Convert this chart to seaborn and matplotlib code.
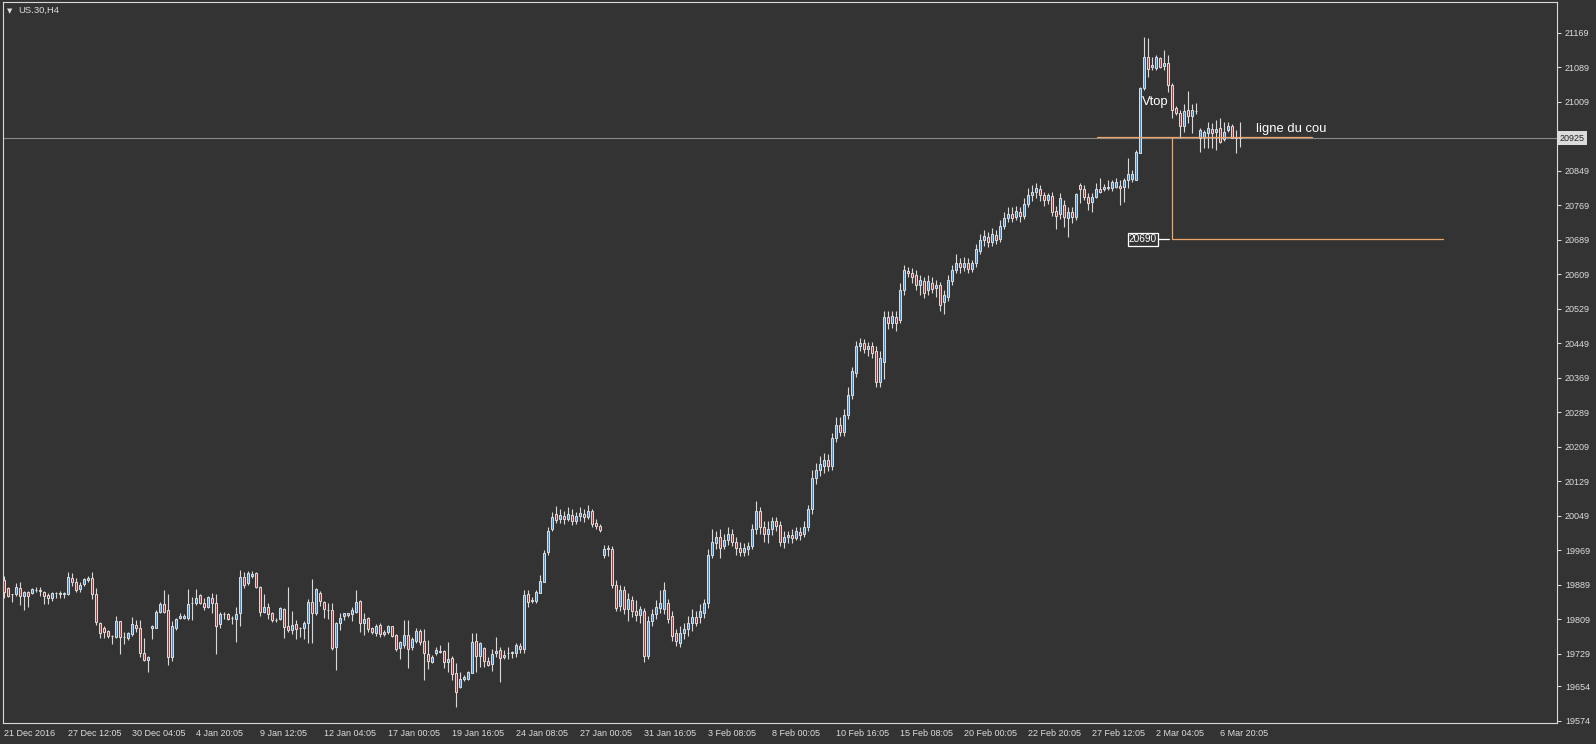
import numpy as np
import pandas as pd
import matplotlib
matplotlib.use("Agg")
import matplotlib.pyplot as plt
import seaborn as sns

# ---------------- data (US.30, H4 candles) ----------------
opens = [
    19900, 19882, 19868, 19868, 19882, 19863, 19872, 19870, 19877, 19877,
    19872, 19865, 19858, 19870, 19868, 19868, 19868, 19905, 19896, 19879,
    19891, 19900, 19905, 19868, 19801, 19789, 19782, 19770, 19768, 19805,
    19768, 19766, 19775, 19796, 19789, 19731, 19715, 19789, 19789, 19826,
    19845, 19831, 19722, 19789, 19812, 19812, 19812, 19847, 19847, 19865,
    19847, 19838, 19858, 19847, 19798, 19821, 19821, 19812, 19810, 19824,
    19907, 19893, 19910, 19916, 19884, 19826, 19838, 19824, 19808, 19810,
    19833, 19794, 19784, 19798, 19789, 19789, 19801, 19849, 19824, 19870,
    19849, 19831, 19831, 19745, 19801, 19817, 19824, 19821, 19826, 19852,
    19801, 19812, 19789, 19777, 19796, 19775, 19780, 19794, 19773, 19743,
    19750, 19773, 19745, 19759, 19782, 19759, 19729, 19710, 19731, 19736,
    19736, 19710, 19719, 19685, 19652, 19671, 19671, 19685, 19759, 19724,
    19743, 19713, 19706, 19731, 19738, 19722, 19731, 19731, 19731, 19747,
    19740, 19868, 19852, 19852, 19870, 19896, 19964, 20018, 20053, 20041,
    20048, 20041, 20051, 20037, 20048, 20053, 20046, 20060, 20032, 20025,
    19959, 19971, 19973, 19888, 19841, 19876, 19834, 19853, 19829, 19820,
    19829, 19723, 19805, 19822, 19836, 19834, 19848, 19817, 19777, 19753,
    19777, 19787, 19801, 19815, 19815, 19824, 19846, 19959, 19985, 20001,
    19980, 19994, 20006, 19989, 19975, 19966, 19971, 19978, 20018, 20060,
    20023, 20006, 20018, 20037, 20027, 19989, 19999, 20004, 19997, 20011,
    20006, 20023, 20065, 20136, 20155, 20164, 20178, 20164, 20230, 20259,
    20244, 20282, 20329, 20381, 20443, 20450, 20436, 20443, 20431, 20360,
    20405, 20509, 20495, 20511, 20502, 20572, 20617, 20613, 20608, 20584,
    20594, 20572, 20589, 20577, 20584, 20544, 20556, 20594, 20620, 20636,
    20627, 20636, 20622, 20636, 20664, 20688, 20695, 20683, 20700, 20690,
    20721, 20740, 20749, 20742, 20754, 20745, 20773, 20792, 20801, 20806,
    20792, 20782, 20790, 20756, 20749, 20770, 20740, 20753, 20742, 20816,
    20807, 20788, 20777, 20789, 20807, 20806, 20811, 20808, 20812, 20814,
    20811, 20828, 20829, 20828, 20890, 21040, 21112, 21090, 21087, 21111,
    21092, 21098, 21048, 20994, 20982, 20953, 20990, 20976, 20988, 20925,
    20927, 20936, 20945, 20940, 20948, 20922, 20944, 20953, 20927, 20927,
]
highs = [
    19910, 19884, 19868, 19893, 19896, 19875, 19875, 19882, 19884, 19884,
    19875, 19870, 19872, 19872, 19875, 19872, 19919, 19916, 19905, 19896,
    19905, 19910, 19919, 19882, 19803, 19794, 19784, 19773, 19817, 19805,
    19780, 19780, 19815, 19807, 19807, 19766, 19724, 19796, 19831, 19849,
    19877, 19868, 19805, 19812, 19824, 19821, 19879, 19861, 19879, 19868,
    19858, 19863, 19870, 19868, 19826, 19826, 19824, 19817, 19838, 19923,
    19919, 19921, 19921, 19919, 19886, 19868, 19847, 19826, 19812, 19838,
    19835, 19884, 19828, 19808, 19791, 19805, 19856, 19903, 19882, 19875,
    19852, 19847, 19847, 19803, 19824, 19824, 19824, 19838, 19877, 19854,
    19824, 19815, 19791, 19798, 19801, 19784, 19796, 19794, 19775, 19759,
    19808, 19808, 19768, 19789, 19787, 19787, 19761, 19726, 19745, 19750,
    19738, 19757, 19724, 19708, 19687, 19680, 19689, 19777, 19777, 19757,
    19745, 19722, 19740, 19768, 19745, 19738, 19745, 19736, 19754, 19754,
    19877, 19877, 19861, 19877, 19912, 19970, 20023, 20058, 20072, 20065,
    20060, 20070, 20065, 20058, 20070, 20065, 20074, 20065, 20041, 20030,
    19982, 19982, 19980, 19900, 19888, 19886, 19871, 19864, 19853, 19841,
    19836, 19817, 19834, 19853, 19876, 19895, 19857, 19829, 19787, 19794,
    19801, 19817, 19834, 19829, 19845, 19857, 19971, 20018, 20013, 20018,
    20008, 20023, 20018, 19999, 19989, 19985, 19989, 20030, 20084, 20070,
    20037, 20037, 20046, 20046, 20037, 20013, 20013, 20018, 20023, 20023,
    20037, 20074, 20155, 20171, 20188, 20195, 20192, 20240, 20277, 20277,
    20296, 20348, 20395, 20454, 20461, 20459, 20452, 20452, 20443, 20431,
    20525, 20525, 20525, 20523, 20589, 20631, 20627, 20624, 20620, 20608,
    20603, 20608, 20603, 20596, 20591, 20572, 20608, 20631, 20655, 20646,
    20648, 20646, 20643, 20679, 20702, 20712, 20707, 20716, 20712, 20735,
    20754, 20764, 20764, 20768, 20764, 20785, 20808, 20815, 20820, 20815,
    20801, 20797, 20801, 20768, 20797, 20781, 20765, 20765, 20797, 20821,
    20816, 20798, 20798, 20821, 20832, 20818, 20828, 20828, 20832, 20828,
    20832, 20878, 20851, 20897, 21044, 21160, 21158, 21113, 21117, 21113,
    21129, 21117, 21052, 20999, 20990, 21005, 21035, 21005, 21007, 20948,
    20944, 20961, 20959, 20967, 20971, 20961, 20963, 20957, 20944, 20963,
]
lows = [
    19858, 19861, 19849, 19863, 19842, 19831, 19838, 19868, 19872, 19863,
    19845, 19845, 19852, 19858, 19858, 19858, 19866, 19886, 19872, 19872,
    19886, 19896, 19856, 19796, 19766, 19766, 19766, 19752, 19766, 19729,
    19752, 19761, 19770, 19780, 19722, 19713, 19687, 19763, 19789, 19824,
    19824, 19703, 19713, 19784, 19810, 19810, 19808, 19808, 19842, 19845,
    19831, 19835, 19824, 19729, 19789, 19810, 19808, 19798, 19757, 19794,
    19882, 19889, 19905, 19882, 19817, 19824, 19810, 19803, 19803, 19808,
    19766, 19780, 19775, 19763, 19768, 19763, 19754, 19754, 19819, 19840,
    19812, 19810, 19738, 19692, 19784, 19808, 19815, 19805, 19824, 19780,
    19773, 19780, 19775, 19770, 19768, 19770, 19775, 19768, 19736, 19717,
    19743, 19696, 19738, 19754, 19750, 19668, 19694, 19708, 19726, 19731,
    19696, 19687, 19668, 19606, 19650, 19666, 19668, 19684, 19687, 19699,
    19699, 19701, 19689, 19722, 19664, 19717, 19717, 19719, 19722, 19731,
    19731, 19838, 19847, 19847, 19870, 19896, 19959, 20013, 20032, 20032,
    20030, 20037, 20027, 20030, 20037, 20034, 20041, 20023, 20018, 20011,
    19952, 19956, 19881, 19829, 19829, 19822, 19805, 19815, 19805, 19801,
    19711, 19716, 19794, 19810, 19824, 19822, 19801, 19758, 19746, 19744,
    19763, 19770, 19782, 19794, 19801, 19812, 19836, 19952, 19971, 19952,
    19971, 19982, 19978, 19959, 19956, 19956, 19959, 19971, 20006, 20006,
    19989, 19987, 20004, 20013, 19978, 19975, 19985, 19987, 19992, 19994,
    19999, 20013, 20053, 20122, 20141, 20148, 20152, 20155, 20221, 20235,
    20235, 20273, 20320, 20372, 20431, 20426, 20419, 20414, 20348, 20348,
    20367, 20483, 20485, 20478, 20495, 20561, 20603, 20589, 20572, 20561,
    20553, 20561, 20565, 20556, 20525, 20518, 20546, 20584, 20613, 20613,
    20617, 20613, 20615, 20627, 20655, 20674, 20672, 20674, 20679, 20683,
    20714, 20731, 20731, 20735, 20731, 20738, 20764, 20780, 20785, 20778,
    20768, 20773, 20745, 20714, 20738, 20719, 20695, 20728, 20735, 20774,
    20781, 20758, 20754, 20785, 20798, 20803, 20804, 20803, 20808, 20770,
    20777, 20808, 20824, 20828, 20890, 21036, 21067, 21083, 21083, 21087,
    21083, 21032, 20971, 20978, 20924, 20940, 20959, 20936, 20981, 20893,
    20901, 20901, 20901, 20897, 20914, 20919, 20940, 20924, 20891, 20905,
]
closes = [
    19872, 19863, 19867, 19884, 19863, 19872, 19863, 19879, 19878, 19875,
    19863, 19858, 19870, 19871, 19870, 19869, 19907, 19896, 19877, 19889,
    19903, 19905, 19868, 19803, 19777, 19780, 19770, 19771, 19805, 19768,
    19769, 19777, 19798, 19789, 19731, 19715, 19722, 19794, 19826, 19845,
    19826, 19722, 19794, 19810, 19817, 19817, 19845, 19846, 19858, 19847,
    19838, 19861, 19847, 19794, 19821, 19822, 19810, 19813, 19821, 19907,
    19889, 19916, 19914, 19884, 19826, 19838, 19821, 19808, 19807, 19835,
    19791, 19784, 19796, 19787, 19788, 19801, 19849, 19824, 19879, 19852,
    19833, 19830, 19743, 19801, 19812, 19824, 19819, 19831, 19849, 19801,
    19810, 19787, 19780, 19794, 19775, 19780, 19794, 19770, 19740, 19757,
    19773, 19740, 19763, 19782, 19757, 19731, 19713, 19722, 19738, 19733,
    19710, 19717, 19682, 19641, 19671, 19675, 19687, 19757, 19724, 19754,
    19713, 19703, 19729, 19736, 19719, 19726, 19730, 19733, 19750, 19740,
    19865, 19849, 19854, 19872, 19898, 19963, 20013, 20046, 20039, 20051,
    20041, 20053, 20037, 20048, 20056, 20046, 20060, 20030, 20025, 20015,
    19971, 19975, 19888, 19836, 19876, 19834, 19857, 19829, 19820, 19834,
    19723, 19805, 19822, 19838, 19848, 19876, 19810, 19770, 19758, 19777,
    19787, 19801, 19815, 19801, 19829, 19848, 19959, 19989, 19999, 19975,
    19994, 20008, 19989, 19975, 19966, 19975, 19980, 20018, 20060, 20023,
    20006, 20018, 20037, 20025, 19989, 19999, 20004, 19997, 20013, 20004,
    20023, 20065, 20136, 20155, 20169, 20178, 20164, 20230, 20259, 20244,
    20282, 20329, 20384, 20443, 20450, 20436, 20443, 20426, 20360, 20414,
    20509, 20495, 20513, 20495, 20572, 20620, 20613, 20603, 20584, 20596,
    20565, 20594, 20575, 20584, 20537, 20561, 20596, 20620, 20636, 20627,
    20636, 20622, 20636, 20667, 20688, 20697, 20683, 20702, 20688, 20721,
    20740, 20749, 20740, 20756, 20745, 20773, 20792, 20801, 20808, 20792,
    20782, 20792, 20754, 20745, 20785, 20742, 20753, 20742, 20795, 20807,
    20788, 20774, 20789, 20806, 20800, 20812, 20808, 20824, 20824, 20808,
    20828, 20842, 20842, 20893, 21040, 21113, 21084, 21094, 21113, 21090,
    21100, 21048, 20990, 20982, 20953, 20988, 20976, 20990, 20987, 20944,
    20940, 20948, 20937, 20945, 20916, 20940, 20953, 20924, 20925, 20925,
]

date_labels = [
    "21 Dec 2016", "27 Dec 12:05", "30 Dec 04:05", "4 Jan 20:05", "9 Jan 12:05",
    "12 Jan 04:05", "17 Jan 00:05", "19 Jan 16:05", "24 Jan 08:05", "27 Jan 00:05",
    "31 Jan 16:05", "3 Feb 08:05", "8 Feb 00:05", "10 Feb 16:05", "15 Feb 08:05",
    "20 Feb 00:05", "22 Feb 20:05", "27 Feb 12:05", "2 Mar 04:05", "6 Mar 20:05",
]
label_step = 16  # one date label every 16 bars

price_ticks = [21169, 21089, 21009, 20849, 20769, 20689, 20609, 20529, 20449,
               20369, 20289, 20209, 20129, 20049, 19969, 19889, 19809, 19729,
               19654, 19574]

bid_price = 20925
neck_price = 20927
target_price = 20690
neck_bars = (273.2, 327.1)
target_bars = (292.0, 359.7)
vtop_pos = (284.6, 21009)
neck_text_pos = (313.2, 20945)

# ---------------- style ----------------
BG = "#333333"
FG = "#dcdcdc"
BULL = "#2e8fe6"
BEAR = "#b53030"
EDGE = "#d9d9d9"
ORANGE = "#efa46a"

sns.set_style("dark", {"axes.facecolor": BG, "figure.facecolor": BG,
                       "axes.edgecolor": EDGE, "grid.color": BG})
plt.rcParams["font.family"] = ["Liberation Sans", "DejaVu Sans"]

df = pd.DataFrame({"open": opens, "high": highs, "low": lows, "close": closes})
df["bar"] = np.arange(len(df))
df["bull"] = df["close"] >= df["open"]

W, H = 1596, 744
fig = plt.figure(figsize=(W / 100, H / 100), dpi=100)
ax = fig.add_axes([2.5 / W, (H - 722.7) / H, (1556.5 - 2.5) / W, (722.7 - 2) / H])
ax.set_facecolor(BG)

# bid line
sns.lineplot(x=[-1, 400], y=[bid_price, bid_price], color="#8a8a8a",
             linewidth=0.8, ax=ax, zorder=1)

# wicks and bodies
ax.vlines(df["bar"], df["low"], df["high"], color=EDGE, linewidth=0.8, zorder=2)
ax.bar(df["bar"], df["close"] - df["open"], bottom=df["open"], width=0.5,
       color=np.where(df["bull"], BULL, BEAR), edgecolor=EDGE,
       linewidth=0.75, zorder=3)

# pattern annotations
sns.lineplot(x=list(neck_bars), y=[neck_price, neck_price], color=ORANGE,
             linewidth=0.9, ax=ax, zorder=4)
ax.plot([target_bars[0], target_bars[0]], [neck_price, target_price],
        color=ORANGE, linewidth=0.9, zorder=4)
ax.plot(list(target_bars), [target_price, target_price], color=ORANGE,
        linewidth=0.9, zorder=4)
ax.plot([288.6, 291.3], [target_price, target_price], color="white",
        linewidth=0.9, zorder=5)
ax.text(288.3, target_price, "20690", color="white", fontsize=7.3,
        ha="right", va="center", zorder=6,
        bbox=dict(boxstyle="square,pad=0.12", facecolor=BG, edgecolor="white",
                  linewidth=0.9))
ax.text(vtop_pos[0], vtop_pos[1], "Vtop", color="white", fontsize=9.4,
        ha="left", va="center", zorder=6)
ax.text(neck_text_pos[0], neck_text_pos[1], "ligne du cou", color="white",
        fontsize=9.4, ha="left", va="center", zorder=6)

# axes
ax.set_xlim(-0.3, 388.2)
ax.set_ylim(19569.3, 21240.4)
ax.yaxis.tick_right()
ax.set_yticks(price_ticks)
ax.set_yticklabels([str(p) for p in price_ticks])
ax.set_xticks(np.arange(len(date_labels)) * label_step)
ax.set_xticklabels(date_labels, ha="left")
ax.tick_params(axis="y", direction="out", length=3, width=0.75, colors=EDGE,
               labelcolor=FG, labelsize=6.5, pad=3, right=True, left=False)
ax.tick_params(axis="x", direction="out", length=3, width=0.75, colors=EDGE,
               labelcolor=FG, labelsize=6.5, pad=1.5)
for s in ax.spines.values():
    s.set_visible(True)
    s.set_color(EDGE)
    s.set_linewidth(0.8)
ax.grid(False)
ax.set_xlabel("")
ax.set_ylabel("")

# bid price tag on the price scale
ax.text(1.0 + 3.2 / (1556.5 - 2.5), bid_price, str(bid_price),
        transform=ax.get_yaxis_transform(), color="#222222", fontsize=6.5,
        ha="left", va="center", zorder=7, clip_on=False,
        bbox=dict(boxstyle="square,pad=0.25", facecolor="#dcdcdc",
                  edgecolor="none"))

# title
fig.text(7.0 / W, 1 - 11.0 / H, "\u25bc", fontsize=5, color=FG, va="center",
         ha="left", family="DejaVu Sans")
fig.text(18.3 / W, 1 - 10.7 / H, "US.30,H4", fontsize=6.8, color=FG,
         va="center", ha="left")

fig.savefig("out.png", dpi=100, facecolor=BG)
